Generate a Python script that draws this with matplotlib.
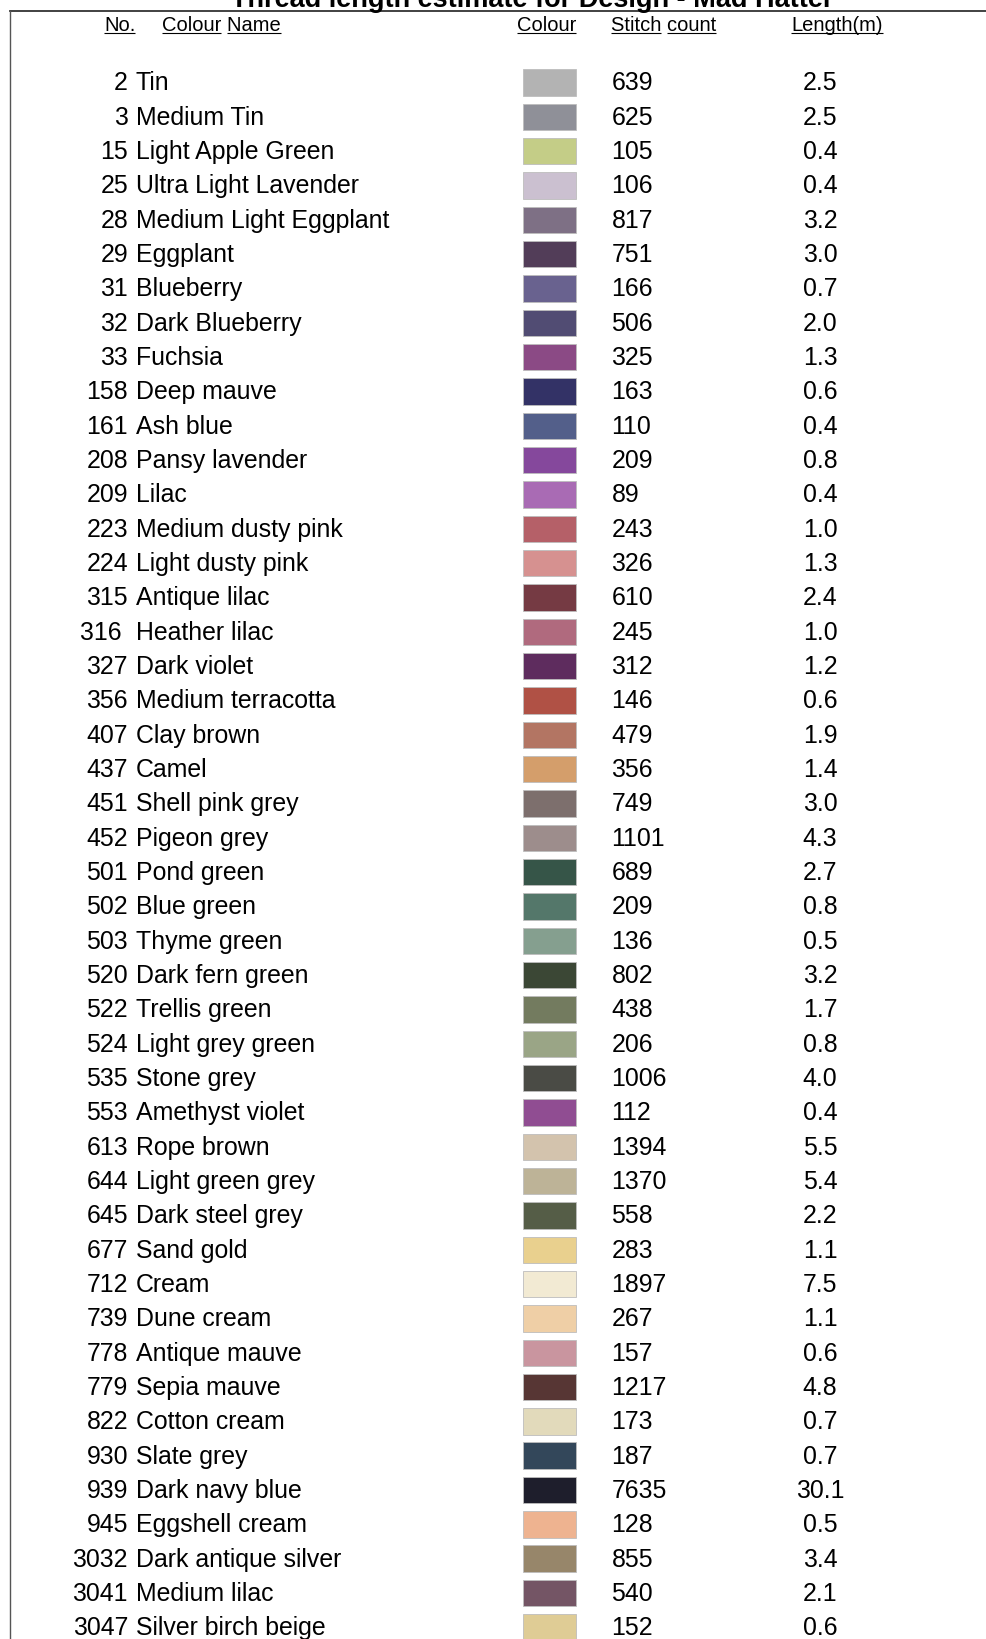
"""
Thread length estimate table for the Mad Hatter design.

Draws the colour key as a table: thread number, colour name, a colour
swatch, the stitch count and the estimated thread length in metres.
"""

import matplotlib
matplotlib.use("Agg")
import matplotlib.pyplot as plt

# Table data
thread_numbers = ["2", "3", "15", "25", "28", "29", "31", "32", "33", "158",
                  "161", "208", "209", "223", "224", "315", "316 ", "327", "356", "407",
                  "437", "451", "452", "501", "502", "503", "520", "522", "524", "535",
                  "553", "613", "644", "645", "677", "712", "739", "778", "779", "822",
                  "930", "939", "945", "3032", "3041", "3047"]

colour_names = ["Tin", "Medium Tin", "Light Apple Green", "Ultra Light Lavender",
                "Medium Light Eggplant", "Eggplant", "Blueberry", "Dark Blueberry",
                "Fuchsia", "Deep mauve", "Ash blue", "Pansy lavender", "Lilac",
                "Medium dusty pink", "Light dusty pink", "Antique lilac", "Heather lilac",
                "Dark violet", "Medium terracotta", "Clay brown", "Camel",
                "Shell pink grey", "Pigeon grey", "Pond green", "Blue green",
                "Thyme green", "Dark fern green", "Trellis green", "Light grey green",
                "Stone grey", "Amethyst violet", "Rope brown", "Light green grey",
                "Dark steel grey", "Sand gold", "Cream", "Dune cream", "Antique mauve",
                "Sepia mauve", "Cotton cream", "Slate grey", "Dark navy blue",
                "Eggshell cream", "Dark antique silver", "Medium lilac",
                "Silver birch beige"]

swatch_colours = ["#b3b3b3", "#8f9098", "#c4cd87", "#cbc0d0", "#7e7085", "#523d58",
                  "#69628f", "#514c73", "#8b4a85", "#333266", "#535f8a", "#85489c",
                  "#a96bb4", "#b56068", "#d69190", "#753a43", "#b06a7e", "#5e2c5e",
                  "#b05145", "#b37563", "#d49e6b", "#7d6f6d", "#9d8d8c", "#365548",
                  "#54776a", "#859f8f", "#3b4735", "#737b5f", "#9aa586", "#4a4b45",
                  "#904d92", "#d3c3ad", "#bdb397", "#555d47", "#e9d08e", "#f2ead3",
                  "#efcfa6", "#c9959f", "#573634", "#e2dabb", "#33475a", "#1e1e2c",
                  "#eeb390", "#97866a", "#745565", "#dfcc95"]

stitch_counts = [639, 625, 105, 106, 817, 751, 166, 506, 325, 163,
                 110, 209, 89, 243, 326, 610, 245, 312, 146, 479,
                 356, 749, 1101, 689, 209, 136, 802, 438, 206, 1006,
                 112, 1394, 1370, 558, 283, 1897, 267, 157, 1217, 173,
                 187, 7635, 128, 855, 540, 152]

lengths_m = [2.5, 2.5, 0.4, 0.4, 3.2, 3.0, 0.7, 2.0, 1.3, 0.6,
             0.4, 0.8, 0.4, 1.0, 1.3, 2.4, 1.0, 1.2, 0.6, 1.9,
             1.4, 3.0, 4.3, 2.7, 0.8, 0.5, 3.2, 1.7, 0.8, 4.0,
             0.4, 5.5, 5.4, 2.2, 1.1, 7.5, 1.1, 0.6, 4.8, 0.7,
             0.7, 30.1, 0.5, 3.4, 2.1, 0.6]

title = "Thread length estimate for Design - Mad Hatter"
headers = [("No.", 104), ("Colour Name", 162), ("Colour", 517),
           ("Stitch count", 611), ("Length(m)", 791)]

# Layout (pixel units, origin top-left)
W, H = 987, 1639
ROW0 = 90.5       # baseline of first row
PITCH = 34.33
FONT = ["Liberation Sans", "DejaVu Sans"]
HEAD_SIZE = 14.5


def underline(ax, fig, txt, y):
    """Draw a line under each word of a header text."""
    renderer = fig.canvas.get_renderer()
    inv = ax.transData.inverted()
    size = txt.get_fontsize()
    x0 = inv.transform(txt.get_window_extent(renderer).get_points())[0][0]
    words = txt.get_text().split(" ")
    cursor = x0
    for i, word in enumerate(words):
        probe = ax.text(cursor, y, word, fontsize=size, family=FONT, alpha=0)
        box = inv.transform(probe.get_window_extent(renderer).get_points())
        ax.plot([box[0][0], box[1][0]], [y, y], color="black", lw=0.8,
                solid_capstyle="butt")
        probe.remove()
        if i < len(words) - 1:
            # start of next word = width of "words so far + space"
            head = ax.text(x0, y, " ".join(words[:i + 1]) + " x",
                           fontsize=size, family=FONT, alpha=0)
            xb = ax.text(0, y, "x", fontsize=size, family=FONT, alpha=0)
            b1 = inv.transform(head.get_window_extent(renderer).get_points())
            b2 = inv.transform(xb.get_window_extent(renderer).get_points())
            cursor = b1[1][0] - (b2[1][0] - b2[0][0])
            head.remove()
            xb.remove()


def main():
    fig = plt.figure(figsize=(W / 100, H / 100), dpi=100)
    ax = fig.add_axes([0, 0, 1, 1])
    ax.set_xlim(0, W)
    ax.set_ylim(H, 0)
    ax.axis("off")

    # Frame lines
    ax.plot([10, W], [11, 11], color="#333333", lw=1.3)
    ax.plot([10, 10], [11, H], color="#555555", lw=1.0)

    # Title (cut off by the top edge, as in the source)
    ax.text(532, 7, title, ha="center", va="baseline", fontsize=19.5,
            fontweight="bold", family=FONT)

    # Column headers
    head_texts = []
    for label, x in headers:
        t = ax.text(x, 31, label, ha="left", va="baseline", fontsize=HEAD_SIZE,
                    family=FONT)
        head_texts.append(t)
    fig.canvas.draw()
    for t in head_texts:
        underline(ax, fig, t, 33)

    # Rows
    baselines = [ROW0 + i * PITCH for i in range(len(colour_names))]
    centres = [b - 8 for b in baselines]
    ax.barh(centres, [53] * len(centres), left=523, height=26.4,
            color=swatch_colours, edgecolor="#bdbdbd", linewidth=0.6)

    for i, y in enumerate(baselines):
        ax.text(128, y, thread_numbers[i], ha="right", va="baseline",
                fontsize=17.9, family=FONT)
        ax.text(136, y, colour_names[i], ha="left", va="baseline",
                fontsize=17.9, family=FONT)
        ax.text(611.5, y, str(stitch_counts[i]), ha="left", va="baseline",
                fontsize=17.9, family=FONT)
        ax.text(820, y, f"{lengths_m[i]:.1f}", ha="center", va="baseline",
                fontsize=17.9, family=FONT)

    fig.savefig("out.png", dpi=100)


if __name__ == "__main__":
    main()
